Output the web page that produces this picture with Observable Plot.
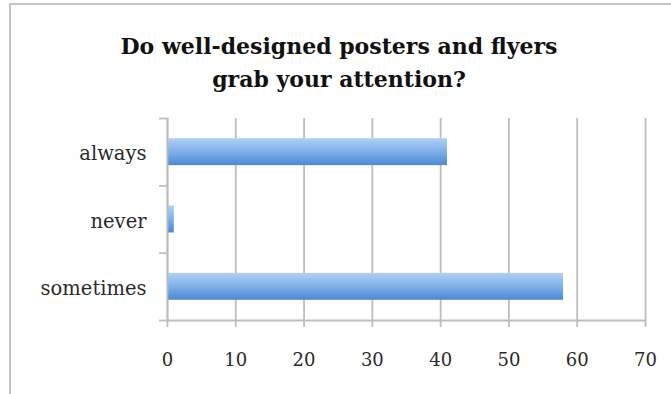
<!DOCTYPE html>
<html>
<head>
<meta charset="utf-8">
<script src="https://cdn.jsdelivr.net/npm/d3@7"></script>
<script src="https://cdn.jsdelivr.net/npm/@observablehq/plot@0.6"></script>
<style>
  body { margin: 0; background: #fff; }
  #wrap { position: relative; width: 671px; height: 394px; overflow: hidden; }
  #frame { position: absolute; left: 9px; top: 3px; width: 700px; height: 420px;
           border-left: 2px solid #c4c4c4; border-top: 2px solid #c4c4c4; }
  #title { position: absolute; left: 0; width: 678px; top: 30px; text-align: center;
           font-family: "DejaVu Serif", serif; font-weight: bold; font-size: 22px;
           line-height: 33px; color: #111; }
  #chart { position: absolute; left: 0; top: 0; }
</style>
</head>
<body>
<div id="wrap">
  <div id="frame"></div>
  <div id="chart"></div>
  <div id="title">Do well-designed posters and flyers<br>grab your attention?</div>
</div>
<script>
// Survey answers, top to bottom
const categories = ["always", "never", "sometimes"];
const counts = [41, 1, 58];
const xTicks = [0, 10, 20, 30, 40, 50, 60, 70];

const rows = categories.map((name, i) => ({name, i, value: counts[i]}));
const gridColor = "#bdbdbd";

// Vertical gradient shared by every bar
const gradientDefs = () => {
  const ns = "http://www.w3.org/2000/svg";
  const defs = document.createElementNS(ns, "defs");
  const g = document.createElementNS(ns, "linearGradient");
  g.setAttribute("id", "barFill");
  g.setAttribute("x1", "0"); g.setAttribute("y1", "0");
  g.setAttribute("x2", "0"); g.setAttribute("y2", "1");
  [["0%", "#b0d0f6"], ["45%", "#84b3ea"], ["100%", "#4a89d5"]].forEach(([o, c]) => {
    const s = document.createElementNS(ns, "stop");
    s.setAttribute("offset", o); s.setAttribute("stop-color", c);
    g.appendChild(s);
  });
  defs.appendChild(g);
  return defs;
};

const chart = Plot.plot({
  width: 671,
  height: 394,
  marginLeft: 167,
  marginRight: 26,
  marginTop: 118,
  marginBottom: 74,
  style: {fontFamily: "DejaVu Serif, serif", fontSize: "18px", color: "#2a2a2a", background: "transparent"},
  x: {domain: [0, 70], ticks: xTicks},
  y: {domain: [-0.5, 2.5], reverse: true},
  marks: [
    gradientDefs,
    Plot.gridX(xTicks, {stroke: gridColor, strokeOpacity: 1, strokeWidth: 1.8}),
    Plot.rectX(rows, {
      x: "value",
      y1: d => d.i - 0.2,
      y2: d => d.i + 0.2,
      fill: "url(#barFill)",
      style: "filter: drop-shadow(1px 2px 1.5px rgba(0,0,0,0.28))"
    }),
    Plot.frame({anchor: "left", stroke: gridColor, strokeWidth: 1.8}),
    Plot.frame({anchor: "bottom", stroke: gridColor, strokeWidth: 1.8}),
    Plot.axisX({ticks: xTicks, tickSize: 7, tickPadding: 26, stroke: gridColor, strokeWidth: 1.8, label: null}),
    Plot.axisY({ticks: [-0.5, 0.5, 1.5, 2.5], tickSize: 8, tickFormat: () => "", stroke: gridColor, strokeWidth: 1.8, label: null}),
    Plot.axisY({ticks: rows.map(d => d.i), tickSize: 0, tickPadding: 21, tickFormat: i => categories[i], fontSize: 19.5, dy: 2, label: null})
  ]
});
document.getElementById("chart").appendChild(chart);
</script>
</body>
</html>
